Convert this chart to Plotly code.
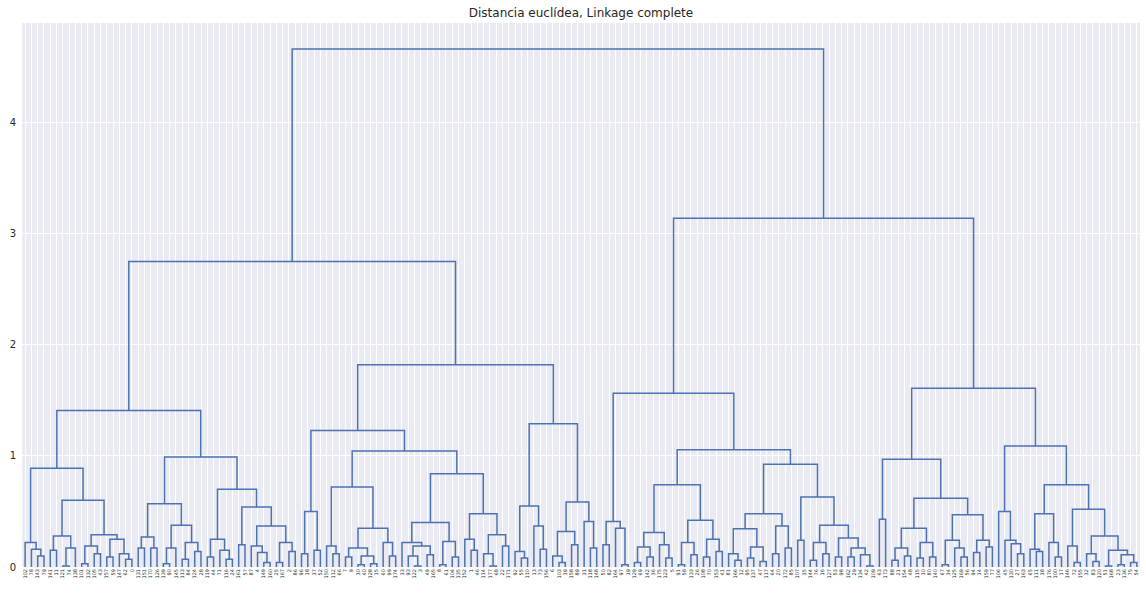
import plotly.graph_objects as go

# ---------------- data ----------------
leaf_labels = [
    102, 78, 143, 79, 141, 11, 121, 74, 138, 101, 132, 105, 43, 157, 59, 147, 62, 0, 131, 151,
    170, 126, 139, 90, 145, 113, 84, 124, 28, 119, 44, 71, 116, 24, 161, 57, 87, 4, 149, 160,
    25, 167, 2, 86, 96, 18, 37, 52, 150, 112, 66, 7, 9, 30, 40, 128, 15, 60, 99, 174,
    33, 93, 122, 3, 49, 165, 8, 61, 104, 135, 152, 1, 46, 114, 177, 68, 22, 171, 92, 55,
    110, 13, 73, 156, 6, 103, 39, 158, 89, 31, 118, 148, 50, 82, 164, 97, 19, 129, 69, 142,
    36, 175, 123, 5, 91, 58, 133, 26, 108, 70, 153, 41, 81, 166, 12, 95, 137, 47, 117, 64,
    20, 172, 85, 107, 35, 144, 76, 16, 127, 53, 98, 162, 29, 134, 42, 109, 63, 173, 88, 21,
    154, 48, 115, 10, 80, 140, 67, 34, 125, 169, 56, 94, 14, 159, 77, 106, 45, 130, 27, 163,
    65, 111, 38, 176, 100, 17, 146, 72, 155, 32, 83, 120, 51, 168, 23, 136, 75, 54,
]

L = "leaf"  # a leaf of the tree; internal nodes are [merge_height, left, right]

# left part of the tree
clu_A = [0.22, L, [0.16, L, [0.10, L, L]]]
clu_E = [0.28, [0.15, L, L], [0.17, [0.01, L, L], L]]
clu_J = [0.19, [0.03, L, L], [0.12, L, L]]
clu_R = [0.25, [0.09, L, L], [0.12, L, [0.07, L, L]]]
n089 = [0.89, clu_A, [0.60, clu_E, [0.29, clu_J, clu_R]]]

n027 = [0.27, [0.17, L, L], [0.17, L, L]]
n0377 = [0.377, [0.17, [0.03, L, L], L], [0.22, [0.07, L, L], [0.14, L, L]]]
n025 = [0.25, [0.09, L, L], [0.15, L, [0.07, L, L]]]
n037 = [0.37, [0.19, L, [0.13, L, [0.04, L, L]]], [0.22, [0.04, L, L], [0.14, L, L]]]
n099 = [0.99, [0.57, n027, n0377], [0.70, n025, [0.54, [0.20, L, L], n037]]]
n141 = [1.41, n089, n099]

n051 = [0.50, [0.12, L, L], [0.15, L, L]]
n0716 = [0.72, [0.19, L, [0.12, L, L]],
         [0.35, [0.17, [0.09, L, L], [0.10, [0.02, L, L], [0.03, L, L]]], [0.22, L, [0.10, L, L]]]]
n040 = [0.40, [0.22, L, [0.19, [0.10, L, [0.01, L, L]], [0.11, L, L]]],
        [0.23, [0.02, L, L], [0.09, L, L]]]
n047 = [0.48, [0.25, L, [0.15, L, L]], [0.29, [0.12, L, [0.01, L, L]], [0.19, L, L]]]
n123 = [1.23, n051, [1.045, n0716, [0.84, n040, n047]]]
n055 = [0.55, [0.14, L, [0.08, L, L]], [0.37, L, [0.16, L, L]]]
n059 = [0.585, [0.32, [0.10, L, [0.04, L, L]], [0.20, L, L]], [0.41, L, [0.17, L, L]]]
n182 = [1.82, n123, [1.29, n055, n059]]

# right part of the tree
n0416 = [0.41, [0.20, L, L], [0.35, L, [0.02, L, L]]]
n031 = [0.31, [0.18, [0.04, L, L], [0.09, L, L]], [0.20, L, [0.08, L, L]]]
n042 = [0.42, [0.22, [0.02, L, L], [0.11, L, L]], [0.25, [0.09, L, L], [0.14, L, L]]]
n0345 = [0.345, [0.12, L, [0.06, L, L]], [0.18, [0.08, L, L], [0.05, L, L]]]
n037b = [0.37, [0.12, L, L], [0.17, L, L]]
n026 = [0.26, [0.09, L, L], [0.17, [0.09, L, L], [0.11, L, [0.01, L, L]]]]
n063 = [0.63, [0.24, L, L], [0.377, [0.22, [0.06, L, L], [0.12, L, L]], n026]]
n157 = [1.565, n0416, [1.055, [0.74, n031, n042], [0.925, [0.48, n0345, n037b], n063]]]

n035c = [0.35, [0.17, [0.06, L, L], [0.10, L, L]], [0.22, [0.08, L, L], [0.09, L, L]]]
n047c = [0.47, [0.24, [0.02, L, L], [0.17, L, [0.09, L, L]]], [0.24, [0.13, L, L], [0.18, L, L]]]
n050 = [0.50, L, [0.24, L, [0.21, L, [0.12, L, L]]]]
n048d = [0.48, [0.16, L, [0.14, L, L]], [0.22, L, [0.09, L, L]]]
n028 = [0.28, [0.12, L, [0.05, L, L]], [0.15, [0.01, L, L], [0.11, [0.02, L, L], [0.04, L, L]]]]
n161 = [1.61, [0.97, [0.43, L, L], [0.62, n035c, n047c]],
        [1.09, n050, [0.74, n048d, [0.52, [0.19, L, [0.04, L, L]], n028]]]]

root = [4.665, [2.75, n141, n182], [3.14, n157, n161]]

# ---------------- build dendrogram links ----------------
xs, ys = [], []
leaf_count = [0]


def walk(node):
    if node == L:
        x = 5 + 10 * leaf_count[0]
        leaf_count[0] += 1
        return x, 0.0
    h, a, b = node
    xa, ha = walk(a)
    xb, hb = walk(b)
    xs.extend([xa, xa, xb, xb, None])
    ys.extend([ha, h, h, hb, None])
    return (xa + xb) / 2, h


walk(root)
n_leaves = leaf_count[0]
tick_pos = [5 + 10 * i for i in range(n_leaves)]
tick_txt = [str(v) for v in leaf_labels[:n_leaves]]

fig = go.Figure()
fig.add_trace(go.Scatter(
    x=xs, y=ys, mode="lines",
    line=dict(color="#4C72B0", width=1.5),
    hoverinfo="skip", showlegend=False,
))

text_col = "#262626"
fig.update_layout(
    width=1146, height=593,
    margin=dict(l=22, r=6, t=23, b=26),
    paper_bgcolor="white",
    plot_bgcolor="#EAEAF2",
    font=dict(family="DejaVu Sans", color=text_col),
    title=dict(
        text="Distancia euclídea, Linkage complete",
        x=(22 + 1118 / 2) / 1146, xanchor="center",
        y=1 - 13 / 593, yanchor="middle",
        font=dict(size=12, color=text_col, family="DejaVu Sans"),
    ),
    xaxis=dict(
        range=[0, 10 * n_leaves],
        tickmode="array", tickvals=tick_pos, ticktext=tick_txt,
        tickangle=-90, tickfont=dict(size=5, color=text_col),
        showgrid=True, gridcolor="white", gridwidth=1,
        zeroline=False, showline=False, ticks="",
    ),
    yaxis=dict(
        range=[0, 4.665 * 1.05],
        tickmode="linear", tick0=0, dtick=1,
        tickfont=dict(size=10, color=text_col),
        ticklabelstandoff=5,
        showgrid=True, gridcolor="white", gridwidth=1,
        zeroline=False, showline=False, ticks="",
    ),
)

fig.write_html("out.html")
